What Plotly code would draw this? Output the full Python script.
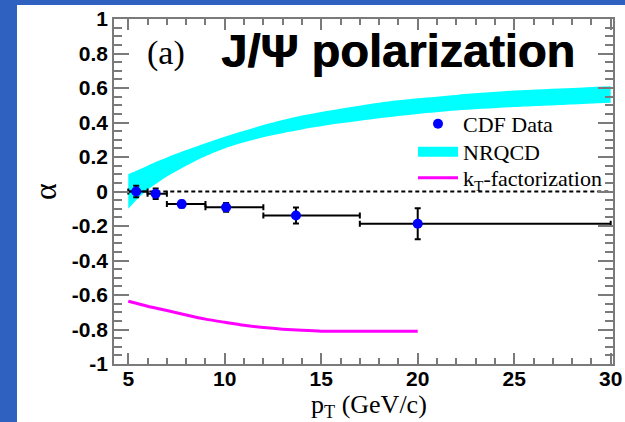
import plotly.graph_objects as go

# CDF J/psi polarization measurement (bin centres, bin edges, alpha, stat. error)
pt_data = [5.41, 6.42, 7.77, 10.07, 13.69, 20.0]
pt_low = [5.0, 6.0, 7.0, 9.0, 12.0, 17.0]
pt_high = [6.0, 7.0, 9.0, 12.0, 17.0, 30.0]
alpha_data = [0.0, -0.013, -0.073, -0.092, -0.139, -0.187]
alpha_err = [0.033, 0.03, 0.02, 0.025, 0.046, 0.09]

# NRQCD prediction band
pt_nrqcd = [5, 5.5, 6, 6.5, 7, 8, 9, 10, 12, 14, 16, 18, 20, 22, 25, 28, 30]
nrqcd_low = [-0.10, -0.04, 0.01, 0.05, 0.087, 0.15, 0.205, 0.25, 0.315, 0.36,
             0.395, 0.425, 0.45, 0.47, 0.49, 0.505, 0.515]
nrqcd_high = [0.10, 0.125, 0.15, 0.175, 0.197, 0.24, 0.28, 0.318, 0.385, 0.44,
              0.48, 0.515, 0.54, 0.56, 0.585, 0.60, 0.61]

# kT-factorization prediction
pt_kt = [5, 6, 7, 8, 9, 10, 11, 12, 13, 14, 15, 17, 20]
alpha_kt = [-0.636, -0.665, -0.69, -0.716, -0.74, -0.758, -0.775, -0.788,
            -0.798, -0.805, -0.81, -0.81, -0.81]

x_ticks = [5, 10, 15, 20, 25, 30]
y_ticks = [-1, -0.8, -0.6, -0.4, -0.2, 0, 0.2, 0.4, 0.6, 0.8, 1]
y_ticklabels = ["-1", "-0.8", "-0.6", "-0.4", "-0.2", "0", "0.2", "0.4", "0.6", "0.8", "1"]

SERIF = "Liberation Serif"
SANS = "Liberation Sans"
FRAME = "#7a7a7a"

# plot-area geometry in pixels
L, R, T, B = 114, 613, 19, 364
PW, PH = R - L, B - T


def px(x):
    return (x - L) / PW


def py(y):
    return (B - y) / PH


fig = go.Figure()

# NRQCD band
fig.add_trace(go.Scatter(x=pt_nrqcd, y=nrqcd_low, mode="lines",
                         line=dict(width=0, color="#00ffff", shape="spline", smoothing=0.8),
                         showlegend=False, hoverinfo="skip"))
fig.add_trace(go.Scatter(x=pt_nrqcd, y=nrqcd_high, mode="lines",
                         line=dict(width=0, color="#00ffff", shape="spline", smoothing=0.8),
                         fill="tonexty", fillcolor="#00ffff", showlegend=False, hoverinfo="skip"))

# alpha = 0 reference
fig.add_trace(go.Scatter(x=[5, 30], y=[0, 0], mode="lines",
                         line=dict(color="black", width=2, dash="4px,3px"), showlegend=False))

# kT-factorization curve
fig.add_trace(go.Scatter(x=pt_kt, y=alpha_kt, mode="lines",
                         line=dict(color="#ff00ff", width=3, shape="spline", smoothing=0.6),
                         name="k<sub>T</sub>-factorization", legend="legend3"))

# legend entry for the NRQCD band
fig.add_trace(go.Scatter(x=[None], y=[None], mode="lines", line=dict(color="#00ffff", width=11),
                         name="NRQCD", legend="legend2"))

# CDF data points
fig.add_trace(go.Scatter(
    x=pt_data, y=alpha_data, mode="markers", name="CDF Data", legend="legend",
    marker=dict(color="#0000ff", size=10),
    error_y=dict(type="data", array=alpha_err, color="black", thickness=2, width=3),
    error_x=dict(type="data", symmetric=False,
                 array=[h - x for h, x in zip(pt_high, pt_data)],
                 arrayminus=[x - l for l, x in zip(pt_low, pt_data)],
                 color="black", thickness=2, width=3),
))

fig.update_xaxes(
    range=[4.26, 30.12], tickvals=x_ticks, ticks="inside", ticklen=11, tickwidth=1.5,
    tickcolor=FRAME, showline=True, linecolor=FRAME, linewidth=1.5, mirror="allticks",
    showgrid=False, zeroline=False, ticklabelstandoff=-5, automargin=False,
    tickfont=dict(family=SANS, size=21, color="black", weight="bold"),
    minor=dict(dtick=1, ticks="inside", ticklen=6, tickcolor=FRAME, tickwidth=1.5, showgrid=False),
)
fig.update_yaxes(
    range=[-1, 1], tickvals=y_ticks, ticktext=y_ticklabels, ticks="inside", ticklen=15,
    tickwidth=1.5, tickcolor=FRAME, showline=True, linecolor=FRAME, linewidth=1.5,
    mirror="allticks", showgrid=False, zeroline=False, ticklabelstandoff=0, automargin=False,
    tickfont=dict(family=SANS, size=21, color="black", weight="bold"),
    minor=dict(dtick=0.05, ticks="inside", ticklen=8, tickcolor=FRAME, tickwidth=1.5, showgrid=False),
)

annotations = [
    dict(text="α", x=px(45), y=py(192), textangle=-90,
         font=dict(family=SERIF, size=32, color="black")),
    dict(text="p<sub>T</sub> (GeV/c)", x=px(369), y=py(406),
         font=dict(family=SERIF, size=26, color="black")),
    dict(text="(a)", x=px(166), y=py(53),
         font=dict(family=SERIF, size=34, color="black")),
    dict(text="J/Ψ polarization", x=px(398), y=py(51),
         font=dict(family=SANS, size=47, color="black", weight="bold",
                   shadow="0.8px 0 0 black")),
]
for a in annotations:
    a.update(xref="paper", yref="paper", showarrow=False, xanchor="center", yanchor="middle")

legend_style = dict(xanchor="left", yanchor="middle", bgcolor="rgba(0,0,0,0)",
                    font=dict(family=SERIF, size=22, color="black"), itemwidth=40)

fig.update_layout(
    width=625, height=422,
    margin=dict(l=L, r=625 - R, t=T, b=422 - B, autoexpand=False),
    paper_bgcolor="#2f62c0", plot_bgcolor="white",
    shapes=[dict(type="rect", xref="paper", yref="paper", x0=px(17), x1=px(630), y0=py(430),
                 y1=py(5), fillcolor="white", line=dict(width=0), layer="below")],
    annotations=annotations,
    legend=dict(x=px(413), y=py(124), **legend_style),
    legend2=dict(x=px(413), y=py(152), **legend_style),
    legend3=dict(x=px(413), y=py(178), **legend_style),
    showlegend=True,
)

fig.write_html("out.html")
